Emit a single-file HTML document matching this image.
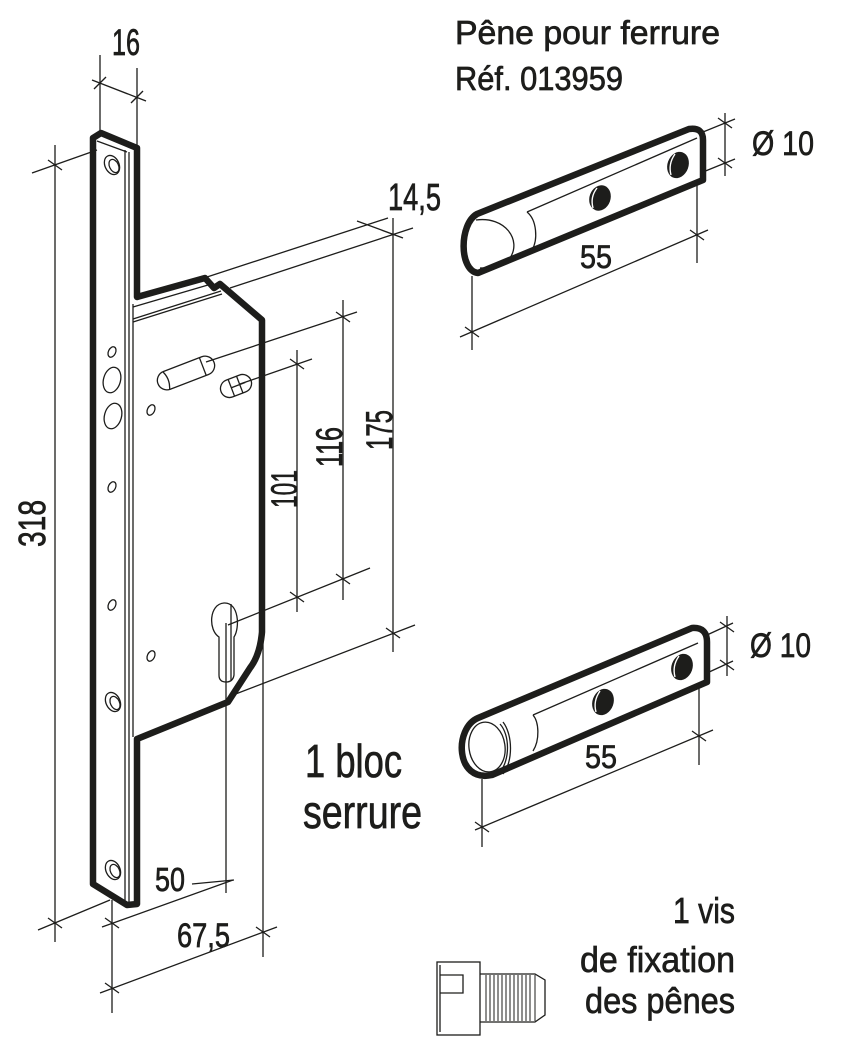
<!DOCTYPE html>
<html><head><meta charset="utf-8"><style>
html,body{margin:0;padding:0;background:#fff;}
svg{display:block;}
text{font-family:"Liberation Sans",sans-serif;fill:#1d1d1b;stroke:#1d1d1b;stroke-width:0.7;}
</style></head><body>
<svg width="843" height="1039" viewBox="0 0 843 1039" xmlns="http://www.w3.org/2000/svg">
<rect width="843" height="1039" fill="#fff"/>

<!-- thin lines -->
<g fill="none" stroke="#1d1d1b" stroke-width="1.3">
  <!-- faceplate inner lines -->
  <line x1="97" y1="141" x2="127" y2="152"/>
  <line x1="125" y1="150" x2="125" y2="903"/>
  <line x1="129" y1="152" x2="129" y2="903"/>
  <line x1="133" y1="304" x2="133" y2="737"/>
  <!-- body top face lines -->
  <line x1="133" y1="307" x2="208" y2="285"/>
  <line x1="133" y1="319" x2="221" y2="291"/>
  <line x1="133" y1="322" x2="222" y2="294"/>

  <!-- 16 dimension -->
  <line x1="100" y1="55" x2="100" y2="132"/>
  <line x1="137" y1="68" x2="137" y2="145"/>
  <line x1="92" y1="80" x2="146" y2="101"/>
  <line x1="94" y1="89" x2="106" y2="77"/>
  <line x1="131" y1="103" x2="143" y2="91"/>

  <!-- 318 dimension -->
  <line x1="55" y1="145" x2="55" y2="942"/>
  <line x1="32" y1="173" x2="97" y2="150"/>
  <line x1="38" y1="930" x2="110" y2="900"/>
  <line x1="48" y1="160" x2="62" y2="170"/>
  <line x1="48" y1="918" x2="62" y2="928"/>

  <!-- 14,5 and 175 -->
  <line x1="207" y1="277" x2="388" y2="218"/>
  <line x1="230" y1="288" x2="413" y2="228"/>
  <line x1="357" y1="221" x2="403" y2="238"/>
  <line x1="393" y1="218" x2="393" y2="652"/>
  <line x1="233" y1="695" x2="415" y2="625"/>
  <line x1="386" y1="628" x2="400" y2="638"/>

  <!-- 116 -->
  <line x1="343" y1="300" x2="343" y2="600"/>
  <line x1="206" y1="362" x2="357" y2="312"/>
  <line x1="336" y1="312" x2="350" y2="322"/>
  <line x1="228" y1="625" x2="370" y2="568"/>
  <line x1="336" y1="574" x2="350" y2="584"/>

  <!-- 101 -->
  <line x1="297" y1="350" x2="297" y2="612"/>
  <line x1="240" y1="384" x2="312" y2="359"/>
  <line x1="290" y1="359" x2="304" y2="369"/>
  <line x1="290" y1="592" x2="304" y2="602"/>

  <!-- 50 -->
  <line x1="226" y1="623" x2="226" y2="893"/>
  <line x1="102" y1="927" x2="233" y2="880"/>
  <line x1="192" y1="884" x2="234" y2="880"/>
  <line x1="105" y1="918" x2="119" y2="928"/>

  <!-- 67,5 -->
  <line x1="112" y1="900" x2="112" y2="1013"/>
  <line x1="263" y1="638" x2="263" y2="957"/>
  <line x1="100" y1="993" x2="277" y2="927"/>
  <line x1="105" y1="983" x2="119" y2="993"/>
  <line x1="256" y1="927" x2="270" y2="937"/>

  <!-- top bolt dims -->
  <line x1="703" y1="132" x2="735" y2="119"/>
  <line x1="703" y1="172" x2="735" y2="159"/>
  <line x1="725" y1="113" x2="725" y2="176"/>
  <line x1="718" y1="118" x2="732" y2="128"/>
  <line x1="718" y1="158" x2="732" y2="168"/>
  <line x1="472" y1="276" x2="472" y2="350"/>
  <line x1="697" y1="183" x2="697" y2="263"/>
  <line x1="460" y1="337" x2="708" y2="230"/>
  <line x1="465" y1="327" x2="479" y2="337"/>
  <line x1="690" y1="230" x2="704" y2="240"/>

  <!-- bottom bolt dims -->
  <line x1="707" y1="635" x2="733" y2="623"/>
  <line x1="707" y1="673" x2="733" y2="661"/>
  <line x1="727" y1="616" x2="727" y2="676"/>
  <line x1="720" y1="622" x2="734" y2="632"/>
  <line x1="720" y1="660" x2="734" y2="670"/>
  <line x1="482" y1="779" x2="482" y2="847"/>
  <line x1="699" y1="685" x2="699" y2="765"/>
  <line x1="475" y1="830" x2="713" y2="730"/>
  <line x1="475" y1="822" x2="489" y2="832"/>
  <line x1="692" y1="731" x2="706" y2="741"/>

  <!-- faceplate holes -->
  <ellipse cx="112" cy="352" rx="3.6" ry="5.5" transform="rotate(25 112 352)"/>
  <ellipse cx="112" cy="487" rx="3.6" ry="5.5" transform="rotate(25 112 487)"/>
  <ellipse cx="112" cy="605" rx="3.6" ry="5.5" transform="rotate(25 112 605)"/>
  <ellipse cx="151" cy="410" rx="3.6" ry="5.5" transform="rotate(25 151 410)"/>
  <ellipse cx="151" cy="656" rx="3.6" ry="5.5" transform="rotate(25 151 656)"/>
  <ellipse cx="112" cy="380" rx="8.5" ry="13" transform="rotate(15 112 380)"/>
  <ellipse cx="113" cy="416" rx="8.5" ry="13" transform="rotate(15 113 416)"/>
  <ellipse cx="112" cy="165" rx="7" ry="10" transform="rotate(-25 112 165)"/>
  <ellipse cx="114" cy="166" rx="4.5" ry="7" transform="rotate(-25 114 166)"/>
  <ellipse cx="113" cy="702" rx="7" ry="10" transform="rotate(-25 113 702)"/>
  <ellipse cx="115" cy="703" rx="4.5" ry="7" transform="rotate(-25 115 703)"/>
  <ellipse cx="113" cy="870" rx="7" ry="10" transform="rotate(-25 113 870)"/>
  <ellipse cx="115" cy="871" rx="4.5" ry="7" transform="rotate(-25 115 871)"/>

  <!-- slots -->
  <g transform="translate(186,373) rotate(-21)">
    <rect x="-30" y="-9.5" width="60" height="19" rx="9.5"/>
    <path d="M-21,-9 Q-17,0 -21,9"/>
    <line x1="18" y1="-9.5" x2="18" y2="9.5"/>
  </g>
  <g transform="translate(236,386) rotate(-21)">
    <rect x="-16" y="-9" width="32" height="18" rx="9"/>
    <line x1="-5" y1="-9" x2="-5" y2="9"/>
    <line x1="4" y1="-9" x2="4" y2="9"/>
    <line x1="-5" y1="0" x2="10" y2="0"/>
  </g>

  <!-- keyhole -->
  <path d="M219,637 C208,630 209,604 224,603 C239,602 240,628 234,637 L234,675 Q233,682 226,682 Q219,682 219,675 Z"/>
  <line x1="231" y1="604" x2="231" y2="680"/>

  <!-- top bolt inner -->
  <path d="M476,220 C505,216 522,240 510,258 C503,266 490,268 480,268"/>
  <line x1="527" y1="212" x2="697" y2="138"/>
  <path d="M527,212 C537,220 538,240 532,250"/>

  <!-- bottom bolt inner -->
  <ellipse cx="487" cy="747" rx="18" ry="25" transform="rotate(-8 487 747)"/>
  <path d="M500,724 C510,735 510,760 500,772"/>
  <path d="M503,722 C513,735 513,762 503,774"/>
  <line x1="533" y1="715" x2="698" y2="643"/>
  <path d="M533,715 C539,722 540,740 533,751"/>

  <!-- screw -->
  <rect x="437" y="962" width="43" height="73"/>
  <line x1="440" y1="965" x2="440" y2="1032"/>
  <path d="M440,975 H463 V993 H440"/>
  <path d="M480,974 H535 L545,980 V1015 L535,1022 H480"/>
  <g stroke-width="1">
    <line x1="486" y1="975" x2="486" y2="1021"/>
    <line x1="490" y1="975" x2="490" y2="1021"/>
    <line x1="494" y1="975" x2="494" y2="1021"/>
    <line x1="498" y1="975" x2="498" y2="1021"/>
    <line x1="502" y1="975" x2="502" y2="1021"/>
    <line x1="506" y1="975" x2="506" y2="1021"/>
    <line x1="510" y1="975" x2="510" y2="1021"/>
    <line x1="514" y1="975" x2="514" y2="1021"/>
    <line x1="518" y1="975" x2="518" y2="1021"/>
    <line x1="522" y1="975" x2="522" y2="1021"/>
    <line x1="526" y1="975" x2="526" y2="1021"/>
    <line x1="530" y1="975" x2="530" y2="1021"/>
    <line x1="535" y1="975" x2="535" y2="1021"/>
  </g>
</g>

<!-- thick outlines -->
<g fill="none" stroke="#1d1d1b" stroke-width="6.5" stroke-linejoin="round">
  <path d="M93,138 L101,133 L137,148 L137,297 L205,278 L214,288 L220,284 L262,320 L262,632 Q260,655 250,668 L228,702 L137,739 L137,904 L127,905 L93,884 Z"/>
  <path d="M478,273 L703,180 L703,140 Q703,127 689,129 L477,214 C459,224 459,271 478,273 Z"/>
  <path d="M492,775 L707,682 L707,642 Q707,627 692,628 L478,718 C454,728 455,783 492,775 Z"/>
</g>

<!-- bolt holes -->
<g fill="#1d1d1b">
  <ellipse cx="600" cy="198" rx="10.5" ry="13" transform="rotate(20 600 198)"/>
  <ellipse cx="678" cy="165" rx="10.5" ry="13.5" transform="rotate(20 678 165)"/>
  <ellipse cx="603" cy="702" rx="10.5" ry="13.5" transform="rotate(20 603 702)"/>
  <ellipse cx="682" cy="667" rx="10.5" ry="13.5" transform="rotate(20 682 667)"/>
</g>
<g fill="none" stroke="#fff" stroke-width="1.4">
  <path d="M597,188 Q590,197 593,208"/>
  <path d="M675,154 Q668,164 671,175"/>
  <path d="M600,691 Q593,701 596,712"/>
  <path d="M679,656 Q672,666 675,677"/>
</g>

<!-- texts -->
<text x="112" y="55" font-size="37" textLength="28" lengthAdjust="spacingAndGlyphs">16</text>
<text x="388" y="210" font-size="38" textLength="53" lengthAdjust="spacingAndGlyphs">14,5</text>
<text x="455" y="44" font-size="33" textLength="265" lengthAdjust="spacingAndGlyphs">Pêne pour ferrure</text>
<text x="455" y="90" font-size="33" textLength="168" lengthAdjust="spacingAndGlyphs">Réf. 013959</text>
<text x="752" y="155" font-size="34" textLength="62" lengthAdjust="spacingAndGlyphs">Ø 10</text>
<text x="580" y="268" font-size="32" textLength="32" lengthAdjust="spacingAndGlyphs">55</text>
<text x="750" y="657" font-size="34" textLength="61" lengthAdjust="spacingAndGlyphs">Ø 10</text>
<text x="585" y="768" font-size="32" textLength="32" lengthAdjust="spacingAndGlyphs">55</text>
<text x="155" y="891" font-size="33" textLength="30" lengthAdjust="spacingAndGlyphs">50</text>
<text x="177" y="947" font-size="34" textLength="53" lengthAdjust="spacingAndGlyphs">67,5</text>
<text x="305" y="777" font-size="46" textLength="97" lengthAdjust="spacingAndGlyphs">1 bloc</text>
<text x="303" y="828" font-size="46" textLength="119" lengthAdjust="spacingAndGlyphs">serrure</text>
<text x="673" y="923" font-size="36" textLength="62" lengthAdjust="spacingAndGlyphs">1 vis</text>
<text x="580" y="972" font-size="36" textLength="155" lengthAdjust="spacingAndGlyphs">de fixation</text>
<text x="585" y="1013" font-size="36" textLength="150" lengthAdjust="spacingAndGlyphs">des pênes</text>

<text transform="translate(45,547) rotate(-90)" font-size="38" textLength="47" lengthAdjust="spacingAndGlyphs">318</text>
<text transform="translate(297,508) rotate(-90)" font-size="37" textLength="38" lengthAdjust="spacingAndGlyphs">101</text>
<text transform="translate(342,467) rotate(-90)" font-size="37" textLength="40" lengthAdjust="spacingAndGlyphs">116</text>
<text transform="translate(392,450) rotate(-90)" font-size="37" textLength="40" lengthAdjust="spacingAndGlyphs">175</text>
</svg>
</body></html>
